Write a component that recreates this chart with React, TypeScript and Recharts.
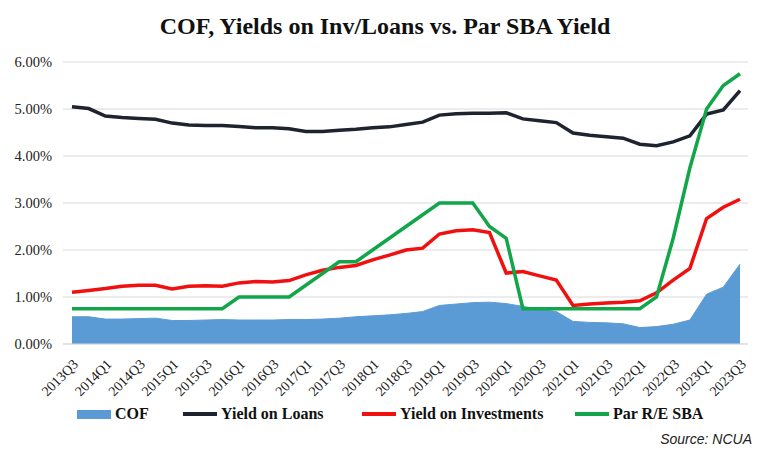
import React from 'react';
import {
	ComposedChart,
	Area,
	Line,
	XAxis,
	YAxis,
	CartesianGrid,
} from 'recharts';

const quarters = [
	'2013Q3', '2013Q4', '2014Q1', '2014Q2', '2014Q3', '2014Q4',
	'2015Q1', '2015Q2', '2015Q3', '2015Q4', '2016Q1', '2016Q2',
	'2016Q3', '2016Q4', '2017Q1', '2017Q2', '2017Q3', '2017Q4',
	'2018Q1', '2018Q2', '2018Q3', '2018Q4', '2019Q1', '2019Q2',
	'2019Q3', '2019Q4', '2020Q1', '2020Q2', '2020Q3', '2020Q4',
	'2021Q1', '2021Q2', '2021Q3', '2021Q4', '2022Q1', '2022Q2',
	'2022Q3', '2022Q4', '2023Q1', '2023Q2', '2023Q3',
];

// values in percent
const cof = [
	0.58, 0.58, 0.53, 0.53, 0.54, 0.55, 0.5, 0.5, 0.51, 0.52, 0.51, 0.51,
	0.51, 0.52, 0.52, 0.53, 0.55, 0.58, 0.6, 0.62, 0.65, 0.69, 0.82, 0.85,
	0.88, 0.89, 0.86, 0.8, 0.74, 0.69, 0.48, 0.46, 0.45, 0.43, 0.35, 0.37,
	0.42, 0.51, 1.06, 1.21, 1.7,
];

const yieldLoans = [
	5.05, 5.01, 4.85, 4.82, 4.8, 4.78, 4.7, 4.66, 4.65, 4.65, 4.63, 4.6,
	4.6, 4.58, 4.52, 4.52, 4.55, 4.57, 4.6, 4.62, 4.67, 4.72, 4.87, 4.9,
	4.91, 4.91, 4.92, 4.79, 4.75, 4.71, 4.49, 4.44, 4.41, 4.38, 4.25, 4.22,
	4.3, 4.43, 4.89, 4.98, 5.39,
];

const yieldInv = [
	1.1, 1.14, 1.18, 1.23, 1.25, 1.25, 1.17, 1.23, 1.24, 1.23, 1.3, 1.33,
	1.32, 1.35, 1.47, 1.57, 1.63, 1.67, 1.79, 1.89, 2.0, 2.04, 2.34, 2.41,
	2.43, 2.37, 1.51, 1.54, 1.45, 1.36, 0.82, 0.85, 0.87, 0.89, 0.92, 1.09,
	1.36, 1.61, 2.67, 2.91, 3.08,
];

const parSba = [
	0.75, 0.75, 0.75, 0.75, 0.75, 0.75, 0.75, 0.75, 0.75, 0.75, 1.0, 1.0,
	1.0, 1.0, 1.25, 1.5, 1.75, 1.75, 2.0, 2.25, 2.5, 2.75, 3.0, 3.0,
	3.0, 2.5, 2.25, 0.75, 0.75, 0.75, 0.75, 0.75, 0.75, 0.75, 0.75, 1.0,
	2.25, 3.75, 5.0, 5.5, 5.75,
];

const yTicks = [0, 1, 2, 3, 4, 5, 6];

const chartData = quarters.map((q, i) => ({
	q,
	cof: cof[i],
	loans: yieldLoans[i],
	inv: yieldInv[i],
	sba: parSba[i],
}));

const SERIF = '"Liberation Serif", "Times New Roman", serif';
const BLUE = '#5b9bd5';
const BLACK = '#1e2330';
const RED = '#f01010';
const GREEN = '#12a54a';

const QuarterTick = ({ x, y, payload }: any) => (
	<g transform={`translate(${x},${y + 6})`}>
		<text
			x={0}
			y={0}
			dy={10}
			textAnchor="end"
			transform="rotate(-45)"
			fontFamily={SERIF}
			fontSize={14}
			fill="#222"
		>
			{payload.value}
		</text>
	</g>
);

const legendItems = [
	{ label: 'COF', color: BLUE, left: 77, box: true },
	{ label: 'Yield on Loans', color: BLACK, left: 183, box: false },
	{ label: 'Yield on Investments', color: RED, left: 362, box: false },
	{ label: 'Par R/E SBA', color: GREEN, left: 575, box: false },
];

export default function App() {
	return (
		<div
			style={{
				position: 'absolute',
				left: 0,
				top: 0,
				width: 770,
				height: 450,
				background: '#fff',
			}}
		>
			<div
				style={{
					position: 'absolute',
					top: 13,
					left: 0,
					width: 770,
					textAlign: 'center',
					fontFamily: SERIF,
					fontWeight: 'bold',
					fontSize: 24,
					color: '#111',
				}}
			>
				COF, Yields on Inv/Loans vs. Par SBA Yield
			</div>
			<ComposedChart
				width={770}
				height={450}
				data={chartData}
				margin={{ top: 62, right: 22, left: 0, bottom: 46 }}
			>
				<CartesianGrid vertical={false} stroke="#d9d9d9" />
				<XAxis
					dataKey="q"
					interval={1}
					height={60}
					tickLine={false}
					axisLine={{ stroke: '#d9d9d9' }}
					padding={{ left: 9, right: 8 }}
					tick={<QuarterTick />}
				/>
				<YAxis
					width={63}
					domain={[0, 6]}
					ticks={yTicks}
					tickLine={false}
					axisLine={false}
					tickMargin={5}
					tickFormatter={(v) => `${v.toFixed(2)}%`}
					tick={{ fontFamily: SERIF, fontSize: 14.5, fill: '#222' }}
				/>
				<Area
					type="linear"
					dataKey="cof"
					stroke={BLUE}
					fill={BLUE}
					fillOpacity={1}
					isAnimationActive={false}
				/>
				<Line
					type="linear"
					dataKey="loans"
					stroke={BLACK}
					strokeWidth={3.5}
					dot={false}
					isAnimationActive={false}
				/>
				<Line
					type="linear"
					dataKey="inv"
					stroke={RED}
					strokeWidth={3.5}
					dot={false}
					isAnimationActive={false}
				/>
				<Line
					type="linear"
					dataKey="sba"
					stroke={GREEN}
					strokeWidth={3.5}
					dot={false}
					isAnimationActive={false}
				/>
			</ComposedChart>
			{legendItems.map((item) => (
				<div
					key={item.label}
					style={{
						position: 'absolute',
						left: item.left,
						top: 405,
						display: 'flex',
						alignItems: 'center',
						fontFamily: SERIF,
						fontWeight: 'bold',
						fontSize: 16,
						color: '#111',
					}}
				>
					<span
						style={{
							display: 'inline-block',
							width: 34,
							height: item.box ? 9 : 3.5,
							background: item.color,
							marginRight: 4,
						}}
					/>
					{item.label}
				</div>
			))}
			<div
				style={{
					position: 'absolute',
					right: 18,
					top: 431,
					fontFamily: '"Liberation Sans", Arial, sans-serif',
					fontStyle: 'italic',
					fontSize: 14,
					color: '#222',
				}}
			>
				Source: NCUA
			</div>
		</div>
	);
}
